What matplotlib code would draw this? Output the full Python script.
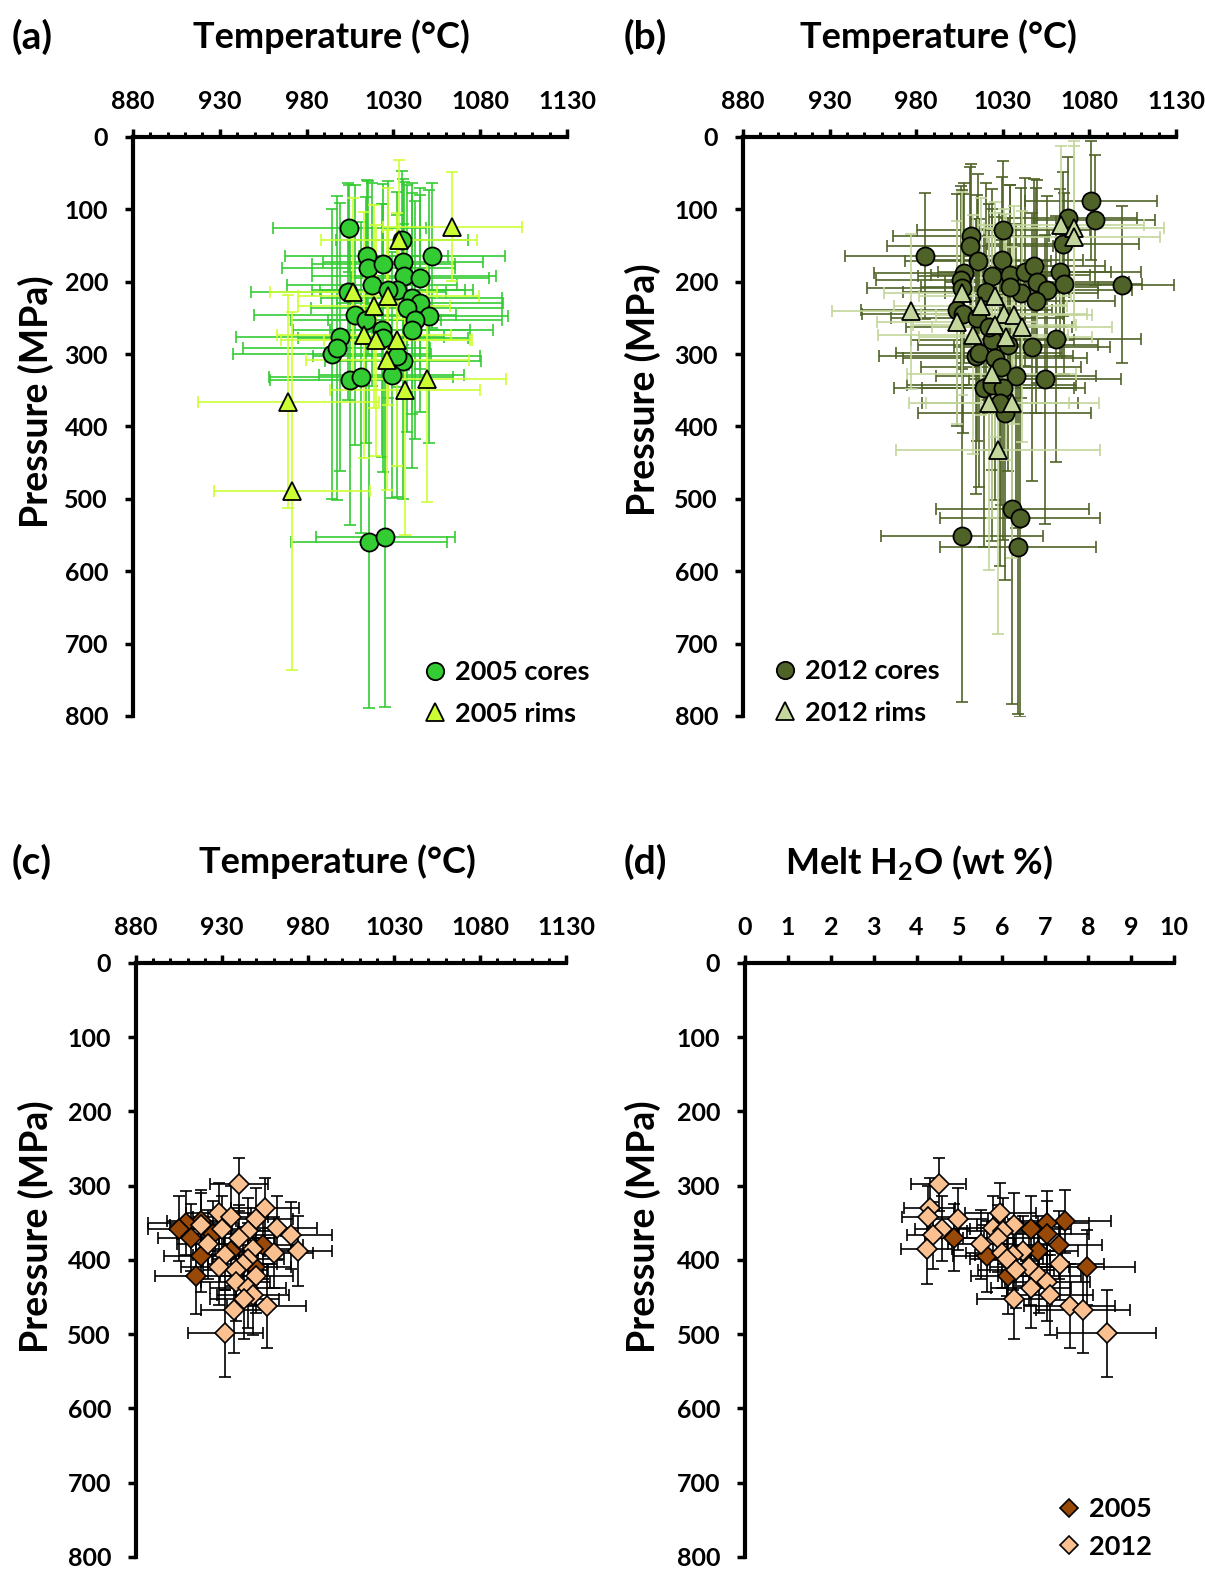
import matplotlib

matplotlib.use("Agg")
import matplotlib.pyplot as plt
from matplotlib.lines import Line2D

plt.rcParams["font.family"] = ["Lato", "DejaVu Sans"]
plt.rcParams["font.weight"] = "bold"
plt.rcParams["mathtext.fontset"] = "custom"
plt.rcParams["mathtext.rm"] = "Lato:bold"
plt.rcParams["mathtext.bf"] = "Lato:bold"

# ---- (a) 2005 cores / rims: temperature vs pressure
t_a_core = [1004.6, 1034.8, 1052.4, 1014.6, 1015.6, 1024.2, 1035.3, 1036.2, 1045.3, 1017.4, 1004.0,
            1031.8, 1040.5, 1045.3, 1037.6, 1050.7, 1042.4, 1007.9, 1014.2, 1040.5, 999.2, 1023.2,
            994.8, 1035.6, 997.3, 1024.2, 1028.9, 1005.0, 1011.3, 1016.1, 1025.2, 1031.8, 1027.0]
p_a_core = [126, 142, 164, 165, 181, 175, 173, 192, 195, 204, 214, 211, 223, 230, 237, 248, 253,
            246, 253, 267, 276, 267, 300, 310, 292, 278, 329, 336, 332, 559, 553, 303, 211]
terr_a_core = [44, 38, 42, 47, 50, 41, 46, 53, 40, 49, 56, 44, 52, 48, 55, 45, 50, 58, 43, 47, 60,
               51, 57, 45, 54, 49, 42, 46, 53, 45, 40, 48, 44]
perr_a_core = [60, 95, 100, 105, 120, 110, 115, 130, 125, 140, 150, 135, 160, 150, 170, 175, 165,
               180, 170, 190, 185, 175, 200, 190, 210, 185, 170, 200, 215, 230, 235, 195, 150]

t_a_rim = [1063.8, 1033.2, 1006.9, 1027.0, 1018.8, 1013.2, 1020.0, 1032.2, 1026.4, 1036.7, 1049.1,
           969.5, 971.4]
p_a_rim = [124, 142, 214, 220, 234, 274, 281, 280, 308, 350, 334, 366, 489]
terr_a_rim = [40, 45, 48, 52, 44, 50, 55, 42, 47, 43, 46, 52, 45]
perr_a_rim = [75, 110, 130, 150, 140, 170, 160, 175, 180, 200, 170, 147, 247]

# ---- (b) 2012 cores / rims
t_b_core = [985.0, 1080.8, 1083.0, 1067.7, 1064.8, 1098.7, 1030.2, 1011.9, 1011.0, 1015.8, 1029.6,
            1007.8, 1006.0, 1006.6, 1024.0, 1034.4, 1042.7, 1047.9, 1062.9, 1065.4, 1049.7, 1055.5,
            1040.7, 1034.0, 1020.5, 1048.9, 1003.3, 1006.8, 1015.2, 1024.0, 1033.0, 1046.9, 1060.7,
            1014.4, 1016.4, 1025.6, 1037.7, 1054.5, 1019.3, 1023.5, 1030.2, 1031.2, 1028.3, 1035.5,
            1040.0, 1006.4, 1039.0, 1022.0, 1029.0]
p_b_core = [164, 88, 115, 112, 148, 204, 128, 137, 151, 171, 170, 188, 198, 208, 192, 191, 186,
            178, 187, 203, 200, 212, 216, 207, 214, 226, 239, 244, 250, 280, 287, 290, 279, 303,
            299, 306, 330, 335, 347, 343, 347, 382, 368, 514, 527, 551, 567, 262, 318]
terr_b_core = [46, 38, 35, 40, 44, 30, 50, 45, 48, 42, 47, 52, 49, 55, 43, 46, 50, 41, 47, 45, 53,
               49, 44, 51, 48, 46, 55, 58, 50, 47, 52, 45, 49, 56, 48, 53, 46, 44, 52, 49, 47, 50,
               45, 44, 46, 47, 45, 48, 46]
perr_b_core = [87, 82, 90, 85, 100, 109, 95, 100, 110, 120, 115, 125, 130, 135, 120, 125, 130, 120,
               115, 125, 140, 130, 145, 140, 150, 155, 160, 165, 170, 180, 175, 185, 170, 190, 185,
               195, 210, 200, 220, 215, 210, 230, 225, 270, 275, 230, 230, 170, 190]

t_b_rim = [1063.6, 1071.3, 1070.9, 977.2, 1003.5, 1025.4, 1017.3, 1030.5, 1036.7, 1041.1, 1025.4,
           1031.8, 1012.9, 1023.5, 1022.0, 1035.5, 1027.2, 1006.6]
p_b_rim = [122, 126, 138, 241, 256, 220, 234, 244, 246, 262, 260, 277, 273, 327, 368, 367, 432, 216]
terr_b_rim = [48, 52, 50, 46, 46, 44, 50, 48, 45, 52, 47, 50, 55, 49, 46, 50, 59, 45]
perr_b_rim = [110, 120, 125, 107, 140, 130, 150, 145, 150, 160, 155, 170, 165, 200, 230, 215, 255, 140]

# ---- (c)/(d) 2005 and 2012: pressure, temperature, melt H2O
p_05 = [348, 350, 358, 365, 370, 380, 388, 395, 410, 422]
t_05 = [918, 909, 905, 925, 912, 954, 935, 918, 949, 915]
h_05 = [7.47, 7.03, 6.67, 7.03, 4.88, 7.31, 6.82, 5.64, 7.98, 6.12]
perr_05 = [42, 43, 44, 45, 45, 46, 47, 48, 50, 51]
terr_05 = [20, 22, 18, 21, 19, 23, 20, 22, 21, 24]
herr_05 = [1.05, 0.98, 0.93, 0.98, 0.68, 1.02, 0.95, 0.79, 1.12, 0.86]

p_12 = [298, 330, 337, 342, 345, 353, 357, 358, 361, 367, 371, 379, 385, 388, 390, 393, 399, 405,
        410, 414, 421, 430, 438, 447, 452, 462, 468, 499]
t_12 = [940, 955, 928, 935, 950, 918, 962, 930, 945, 970, 940, 922, 948, 974, 960, 932, 945, 942,
        928, 938, 950, 938, 945, 948, 943, 956, 937, 932]
h_12 = [4.51, 4.30, 5.95, 4.26, 4.96, 6.28, 5.78, 4.60, 6.01, 4.38, 5.90, 5.50, 4.23, 6.47, 5.99,
        6.24, 6.10, 7.34, 6.63, 6.32, 6.86, 7.05, 6.67, 7.11, 6.28, 7.57, 7.88, 8.43]
perr_12 = [36, 40, 41, 42, 42, 43, 43, 44, 44, 45, 45, 46, 47, 47, 48, 48, 49, 49, 50, 50, 51, 52,
           53, 54, 55, 56, 57, 58]
terr_12 = [17, 20, 19, 22, 21, 18, 23, 20, 19, 24, 21, 18, 22, 20, 23, 19, 21, 20, 22, 19, 21, 20,
           22, 21, 20, 23, 19, 22]
herr_12 = [0.63, 0.60, 0.83, 0.60, 0.70, 0.88, 0.81, 0.64, 0.84, 0.61, 0.83, 0.77, 0.59, 0.91,
           0.84, 0.87, 0.85, 1.03, 0.93, 0.88, 0.96, 0.99, 0.93, 1.00, 0.88, 1.06, 1.10, 1.16]

# axis ticks
temp_major = [880, 930, 980, 1030, 1080, 1130]
temp_minor = list(range(880, 1131, 10))
h2o_major = list(range(0, 11))
press_ticks = list(range(0, 801, 100))

# colours
c_core05 = "#33CC33"
c_rim05 = "#CCFF33"
c_core12 = "#4F6228"
c_rim12 = "#C3D69B"
c_05 = "#984807"
c_12 = "#FAC090"

fig = plt.figure(figsize=(12.05, 15.69), dpi=100)

ax_a = fig.add_axes([0.1104, 0.5437, 0.3602, 0.3690])
ax_b = fig.add_axes([0.6166, 0.5437, 0.3593, 0.3690])
ax_c = fig.add_axes([0.1129, 0.00765, 0.3568, 0.3786])
ax_d = fig.add_axes([0.6183, 0.00765, 0.3560, 0.3786])


def style_axis(ax, xlim, major, minor=None):
    ax.set_xlim(*xlim)
    ax.set_ylim(800, 0)
    ax.xaxis.tick_top()
    ax.set_xticks(major)
    if minor:
        ax.set_xticks(minor, minor=True)
    ax.set_yticks(press_ticks)
    for s in ["right", "bottom"]:
        ax.spines[s].set_visible(False)
    for s in ["left", "top"]:
        ax.spines[s].set_linewidth(3)
    ax.tick_params(axis="x", which="major", direction="out", length=6, width=2.5,
                   pad=11, labelsize=18)
    ax.tick_params(axis="x", which="minor", direction="out", length=3.5, width=2.2)
    ax.tick_params(axis="y", which="major", direction="out", length=6, width=2.5,
                   pad=12, labelsize=18)
    for lab in ax.get_xticklabels() + ax.get_yticklabels():
        lab.set_fontweight("bold")


eb = dict(fmt="none", elinewidth=1.2, capsize=4.5, capthick=1.2, zorder=2)

# (a)
ax_a.errorbar(t_a_core, p_a_core, xerr=terr_a_core, yerr=perr_a_core, ecolor=c_core05, **eb)
ax_a.errorbar(t_a_rim, p_a_rim, xerr=terr_a_rim, yerr=perr_a_rim, ecolor=c_rim05, **eb)
ax_a.plot(t_a_core, p_a_core, "o", ms=13, mfc=c_core05, mec="black", mew=1.3, zorder=3)
ax_a.plot(t_a_rim, p_a_rim, "^", ms=13.5, mfc=c_rim05, mec="black", mew=1.3, zorder=4)
style_axis(ax_a, (880, 1130), temp_major, temp_minor)

# (b)
ax_b.errorbar(t_b_core, p_b_core, xerr=terr_b_core, yerr=perr_b_core, ecolor=c_core12, **eb)
ax_b.errorbar(t_b_rim, p_b_rim, xerr=terr_b_rim, yerr=perr_b_rim, ecolor=c_rim12, **eb)
ax_b.plot(t_b_core, p_b_core, "o", ms=13, mfc=c_core12, mec="black", mew=1.3, zorder=3)
ax_b.plot(t_b_rim, p_b_rim, "^", ms=13.5, mfc=c_rim12, mec="black", mew=1.3, zorder=4)
style_axis(ax_b, (880, 1130), temp_major, temp_minor)

# (c)
ax_c.errorbar(t_05, p_05, xerr=terr_05, yerr=perr_05, ecolor="black", **eb)
ax_c.errorbar(t_12, p_12, xerr=terr_12, yerr=perr_12, ecolor="black", **eb)
ax_c.plot(t_05, p_05, "D", ms=10.5, mfc=c_05, mec="black", mew=1.2, zorder=3)
ax_c.plot(t_12, p_12, "D", ms=10.5, mfc=c_12, mec="black", mew=1.2, zorder=4)
style_axis(ax_c, (880, 1130), temp_major, temp_minor)

# (d)
ax_d.errorbar(h_05, p_05, xerr=herr_05, yerr=perr_05, ecolor="black", **eb)
ax_d.errorbar(h_12, p_12, xerr=herr_12, yerr=perr_12, ecolor="black", **eb)
ax_d.plot(h_05, p_05, "D", ms=10.5, mfc=c_05, mec="black", mew=1.2, zorder=3)
ax_d.plot(h_12, p_12, "D", ms=10.5, mfc=c_12, mec="black", mew=1.2, zorder=4)
style_axis(ax_d, (0, 10), h2o_major)

# titles, panel letters, y labels
for x, y, s in [(331, 37, "Temperature (°C)"), (938, 37, "Temperature (°C)"),
                (337, 862, "Temperature (°C)"), (919, 862, r"Melt H$_\mathbf{2}$O (wt %)")]:
    fig.text(x / 1205, 1 - y / 1569, s, ha="center", va="center", fontsize=26,
             fontweight="bold")
for x, y, s in [(32, 37, "(a)"), (645, 37, "(b)"), (32, 862, "(c)"), (645, 862, "(d)")]:
    fig.text(x / 1205, 1 - y / 1569, s, ha="center", va="center", fontsize=28,
             fontweight="bold")
for x, y in [(36, 402), (643, 390), (36, 1227), (643, 1227)]:
    fig.text(x / 1205, 1 - y / 1569, "Pressure (MPa)", ha="center", va="center",
             rotation=90, fontsize=27, fontweight="bold")


def add_legend(ax, handles, labels, x, y, spacing):
    ax.legend(handles, labels, loc="upper left", bbox_to_anchor=(x / 1205, 1 - y / 1569),
              bbox_transform=fig.transFigure, frameon=False, borderpad=0, borderaxespad=0,
              handlelength=0.8, handletextpad=0.35, labelspacing=spacing,
              prop={"size": 19.5, "weight": "bold"})


add_legend(ax_a,
           [Line2D([], [], ls="none", marker="o", ms=12.5, mfc=c_core05, mec="black", mew=1.3),
            Line2D([], [], ls="none", marker="^", ms=12.5, mfc=c_rim05, mec="black", mew=1.3)],
           ["2005 cores", "2005 rims"], 424, 660, 0.65)
add_legend(ax_b,
           [Line2D([], [], ls="none", marker="o", ms=12.5, mfc=c_core12, mec="black", mew=1.3),
            Line2D([], [], ls="none", marker="^", ms=12.5, mfc=c_rim12, mec="black", mew=1.3)],
           ["2012 cores", "2012 rims"], 774, 659, 0.65)
add_legend(ax_d,
           [Line2D([], [], ls="none", marker="D", ms=9.5, mfc=c_05, mec="black", mew=1.2),
            Line2D([], [], ls="none", marker="D", ms=9.5, mfc=c_12, mec="black", mew=1.2)],
           ["2005", "2012"], 1058, 1497, 0.5)

fig.savefig("out.png", dpi=100)
plt.close(fig)
